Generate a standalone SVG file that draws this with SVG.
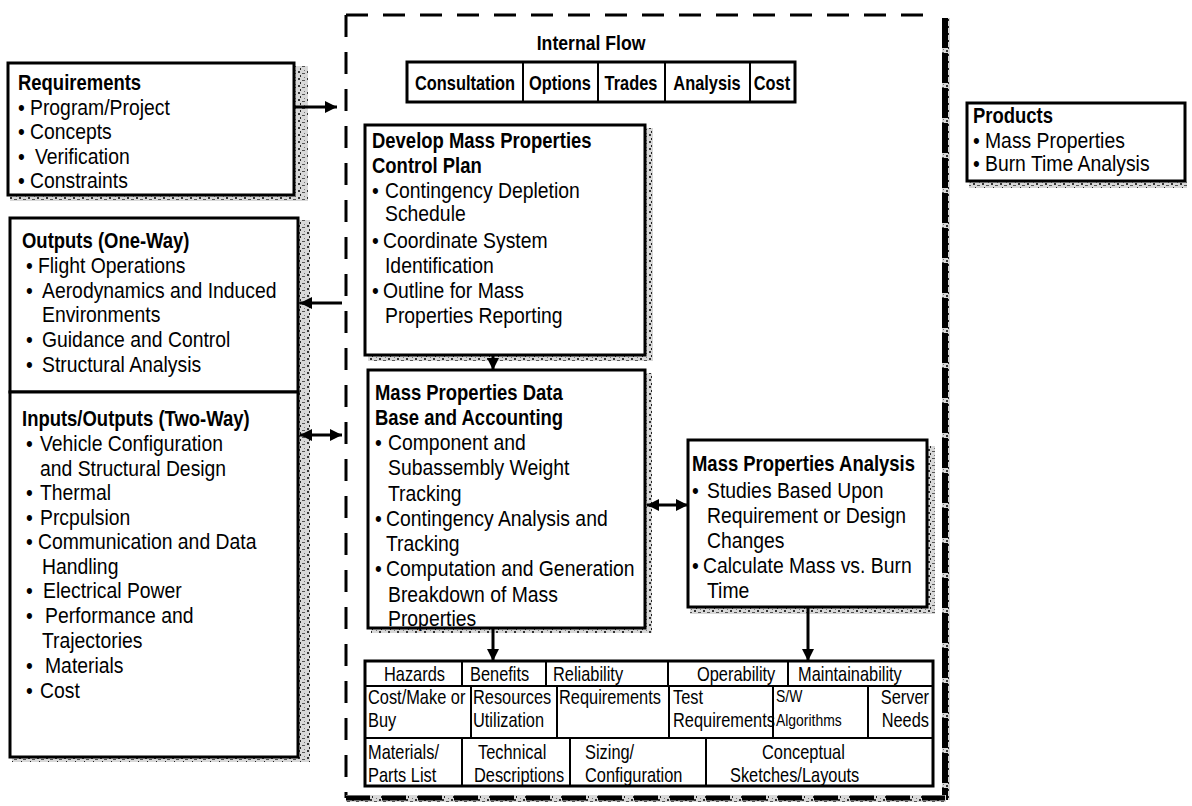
<svg xmlns="http://www.w3.org/2000/svg" width="1192" height="806" viewBox="0 0 1192 806">
<defs>
<pattern id="grain" width="9" height="7" patternUnits="userSpaceOnUse">
<rect width="9" height="7" fill="#d8d8d8"/>
<rect x="1" y="1" width="2" height="2" fill="#333"/>
<rect x="5" y="3" width="3" height="1" fill="#555"/>
<rect x="3" y="5" width="1" height="2" fill="#222"/>
<rect x="7" y="0" width="1" height="1" fill="#777"/>
</pattern>
<marker id="ah" viewBox="0 0 10 10" refX="10" refY="5" markerWidth="14" markerHeight="12" markerUnits="userSpaceOnUse" orient="auto-start-reverse">
<path d="M0,0 L10,5 L0,10 Z" fill="#000"/>
</marker>
</defs>
<style>
text{font-family:"Liberation Sans",Arial,sans-serif;fill:#000;transform-box:fill-box;transform-origin:0 50%;transform:scaleX(0.82);}
text.t{font-size:22px;transform:scaleX(0.88);}
text.b{font-size:22px;font-weight:bold;transform:scaleX(0.84);}
text.f{font-size:20px;font-weight:bold;}
text.s{font-size:20px;}
text.xs{font-size:17px;}
text.m{transform-origin:50% 50%;}
text.e{transform-origin:100% 50%;}
.box{fill:#fff;stroke:#000;stroke-width:3;}
.cell{fill:none;stroke:#000;stroke-width:2;}
.con{stroke:#000;stroke-width:3;fill:none;}
.sh{fill:url(#grain);}
</style>
<rect width="1192" height="806" fill="#fff"/>

<g id="frame">
<line x1="346" y1="15" x2="938" y2="15" stroke="#000" stroke-width="3" stroke-dasharray="22 15"/>
<line x1="346" y1="15" x2="346" y2="798" stroke="#000" stroke-width="3" stroke-dasharray="22 15"/>
<rect x="942" y="18" width="8" height="782" class="sh"/>
<line x1="945" y1="18" x2="945" y2="800" stroke="#000" stroke-width="6" stroke-dasharray="30 5"/>
<rect x="346" y="795" width="600" height="7" class="sh"/>
<line x1="346" y1="798" x2="945" y2="798" stroke="#000" stroke-width="5" stroke-dasharray="24 12"/>
</g>

<g id="requirements">
<rect x="294" y="66" width="14" height="134" class="sh"/>
<rect x="10" y="195" width="298" height="6" class="sh"/>
<rect x="8" y="63" width="286" height="132" class="box"/>
<text x="18" y="90" class="b">Requirements</text>
<text x="18" y="115" class="t">•</text><text x="30" y="115" class="t">Program/Project</text>
<text x="18" y="139" class="t">•</text><text x="30" y="139" class="t">Concepts</text>
<text x="18" y="164" class="t">•</text><text x="35" y="164" class="t">Verification</text>
<text x="18" y="188" class="t">•</text><text x="30" y="188" class="t">Constraints</text>
</g>

<g id="outputs">
<rect x="298" y="220" width="12" height="540" class="sh"/>
<rect x="12" y="757" width="298" height="5" class="sh"/>
<rect x="10" y="218" width="288" height="174" class="box"/>
<text x="22" y="248" class="b">Outputs  (One-Way)</text>
<text x="26" y="273" class="t">•</text><text x="38" y="273" class="t">Flight Operations</text>
<text x="26" y="298" class="t">•</text><text x="42" y="298" class="t">Aerodynamics and Induced</text>
<text x="42" y="322" class="t">Environments</text>
<text x="26" y="347" class="t">•</text><text x="42" y="347" class="t">Guidance and Control</text>
<text x="26" y="372" class="t">•</text><text x="42" y="372" class="t">Structural Analysis</text>
</g>

<g id="inputs-outputs">
<rect x="10" y="392" width="288" height="365" class="box"/>
<text x="22" y="426" class="b">Inputs/Outputs (Two-Way)</text>
<text x="26" y="451" class="t">•</text><text x="40" y="451" class="t">Vehicle Configuration</text>
<text x="40" y="476" class="t">and Structural Design</text>
<text x="26" y="500" class="t">•</text><text x="40" y="500" class="t">Thermal</text>
<text x="26" y="525" class="t">•</text><text x="40" y="525" class="t">Prcpulsion</text>
<text x="26" y="549" class="t">•</text><text x="38" y="549" class="t">Communication and Data</text>
<text x="42" y="574" class="t">Handling</text>
<text x="26" y="598" class="t">•</text><text x="43" y="598" class="t">Electrical Power</text>
<text x="26" y="623" class="t">•</text><text x="45" y="623" class="t">Performance and</text>
<text x="42" y="648" class="t">Trajectories</text>
<text x="26" y="673" class="t">•</text><text x="45" y="673" class="t">Materials</text>
<text x="26" y="698" class="t">•</text><text x="40" y="698" class="t">Cost</text>
</g>

<g id="internal-flow">
<text x="591" y="50" class="b m" text-anchor="middle" style="font-size:21px">Internal Flow</text>
<rect x="407" y="62" width="388" height="40" class="box"/>
<line x1="523" y1="62" x2="523" y2="102" class="cell"/>
<line x1="598" y1="62" x2="598" y2="102" class="cell"/>
<line x1="665" y1="62" x2="665" y2="102" class="cell"/>
<line x1="750" y1="62" x2="750" y2="102" class="cell"/>
<text x="465" y="90" class="f m" text-anchor="middle">Consultation</text>
<text x="560" y="90" class="f m" text-anchor="middle">Options</text>
<text x="631" y="90" class="f m" text-anchor="middle">Trades</text>
<text x="707" y="90" class="f m" text-anchor="middle">Analysis</text>
<text x="772" y="90" class="f m" text-anchor="middle">Cost</text>
</g>

<g id="control-plan">
<rect x="645" y="128" width="8" height="232" class="sh"/>
<rect x="368" y="355" width="285" height="6" class="sh"/>
<rect x="365" y="125" width="280" height="230" class="box"/>
<text x="372" y="148" class="b">Develop Mass Properties</text>
<text x="372" y="173" class="b">Control Plan</text>
<text x="372" y="198" class="t">•</text><text x="385" y="198" class="t">Contingency Depletion</text>
<text x="385" y="221" class="t">Schedule</text>
<text x="372" y="248" class="t">•</text><text x="383" y="248" class="t">Coordinate System</text>
<text x="385" y="273" class="t">Identification</text>
<text x="372" y="298" class="t">•</text><text x="383" y="298" class="t">Outline for Mass</text>
<text x="385" y="323" class="t">Properties Reporting</text>
</g>

<g id="data-base">
<rect x="645" y="373" width="7" height="258" class="sh"/>
<rect x="371" y="628" width="281" height="5" class="sh"/>
<rect x="368" y="370" width="277" height="258" class="box"/>
<text x="375" y="400" class="b">Mass Properties Data</text>
<text x="375" y="425" class="b">Base and Accounting</text>
<text x="375" y="450" class="t">•</text><text x="388" y="450" class="t">Component and</text>
<text x="388" y="475" class="t">Subassembly Weight</text>
<text x="388" y="501" class="t">Tracking</text>
<text x="375" y="526" class="t">•</text><text x="386" y="526" class="t">Contingency Analysis and</text>
<text x="386" y="551" class="t">Tracking</text>
<text x="375" y="576" class="t">•</text><text x="386" y="576" class="t">Computation and Generation</text>
<text x="388" y="602" class="t">Breakdown of Mass</text>
<text x="388" y="626" class="t">Properties</text>
</g>

<g id="analysis">
<rect x="927" y="446" width="8" height="167" class="sh"/>
<rect x="690" y="607" width="245" height="7" class="sh"/>
<rect x="688" y="440" width="239" height="167" class="box"/>
<text x="692" y="471" class="b">Mass Properties Analysis</text>
<text x="692" y="498" class="t">•</text><text x="707" y="498" class="t">Studies Based Upon</text>
<text x="707" y="523" class="t">Requirement or Design</text>
<text x="707" y="548" class="t">Changes</text>
<text x="692" y="573" class="t">•</text><text x="703" y="573" class="t">Calculate Mass vs. Burn</text>
<text x="707" y="598" class="t">Time</text>
</g>

<g id="products">
<rect x="969" y="181" width="218" height="7" class="sh"/>
<rect x="967" y="103" width="218" height="78" class="box"/>
<text x="973" y="123" class="b">Products</text>
<text x="973" y="148" class="t">•</text><text x="985" y="148" class="t">Mass Properties</text>
<text x="973" y="171" class="t">•</text><text x="985" y="171" class="t">Burn Time Analysis</text>
</g>

<g id="table">
<rect x="365" y="661" width="568" height="125" class="box"/>
<line x1="365" y1="686" x2="933" y2="686" class="cell"/>
<line x1="365" y1="738" x2="933" y2="738" class="cell"/>
<line x1="462" y1="661" x2="462" y2="686" class="cell"/>
<line x1="546" y1="661" x2="546" y2="686" class="cell"/>
<line x1="668" y1="661" x2="668" y2="686" class="cell"/>
<line x1="788" y1="661" x2="788" y2="686" class="cell"/>
<line x1="471" y1="686" x2="471" y2="738" class="cell"/>
<line x1="557" y1="686" x2="557" y2="738" class="cell"/>
<line x1="669" y1="686" x2="669" y2="738" class="cell"/>
<line x1="773" y1="686" x2="773" y2="738" class="cell"/>
<line x1="868" y1="686" x2="868" y2="738" class="cell"/>
<line x1="462" y1="738" x2="462" y2="786" class="cell"/>
<line x1="570" y1="738" x2="570" y2="786" class="cell"/>
<line x1="706" y1="738" x2="706" y2="786" class="cell"/>
<text x="384" y="681" class="s">Hazards</text>
<text x="470" y="681" class="s">Benefits</text>
<text x="553" y="681" class="s">Reliability</text>
<text x="697" y="681" class="s">Operability</text>
<text x="798" y="681" class="s">Maintainability</text>
<text x="368" y="704" class="s">Cost/Make or</text>
<text x="368" y="727" class="s">Buy</text>
<text x="473" y="704" class="s">Resources</text>
<text x="473" y="727" class="s">Utilization</text>
<text x="559" y="704" class="s">Requirements</text>
<text x="673" y="704" class="s">Test</text>
<text x="673" y="727" class="s">Requirements</text>
<text x="776" y="702" class="xs">S/W</text>
<text x="776" y="726" class="xs">Algorithms</text>
<text x="929" y="704" class="s e" text-anchor="end">Server</text>
<text x="929" y="727" class="s e" text-anchor="end">Needs</text>
<text x="368" y="759" class="s">Materials/</text>
<text x="368" y="782" class="s">Parts List</text>
<text x="478" y="759" class="s">Technical</text>
<text x="474" y="782" class="s">Descriptions</text>
<text x="585" y="759" class="s">Sizing/</text>
<text x="585" y="782" class="s">Configuration</text>
<text x="762" y="759" class="s">Conceptual</text>
<text x="730" y="782" class="s">Sketches/Layouts</text>
</g>

<g id="connectors">
<line x1="294" y1="107" x2="337" y2="107" class="con" marker-end="url(#ah)"/>
<line x1="342" y1="303" x2="300" y2="303" class="con" marker-end="url(#ah)"/>
<line x1="300" y1="435" x2="342" y2="435" class="con" marker-start="url(#ah)" marker-end="url(#ah)"/>
<line x1="493" y1="355" x2="493" y2="370" class="con" marker-end="url(#ah)"/>
<line x1="647" y1="505" x2="688" y2="505" class="con" marker-start="url(#ah)" marker-end="url(#ah)"/>
<line x1="493" y1="628" x2="493" y2="661" class="con" marker-end="url(#ah)"/>
<line x1="808" y1="607" x2="808" y2="661" class="con" marker-end="url(#ah)"/>
</g>
</svg>
